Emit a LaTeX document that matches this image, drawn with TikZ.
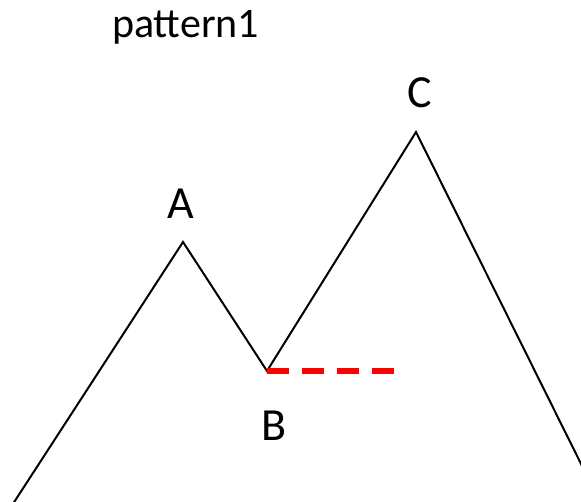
\documentclass[tikz,border=0pt]{standalone}
\usepackage{fontspec}
\setmainfont{Carlito}
\begin{document}
\begin{tikzpicture}[x=1pt,y=-1pt,
  peak/.style={line width=2pt,black,line join=miter},
  lvl/.style={line width=5.5pt,red,dash pattern=on 22pt off 13pt},
  lbl/.style={font=\fontsize{46}{50}\selectfont,inner sep=0pt}]
\useasboundingbox (0,0) rectangle (581,501);
\clip (0,0) rectangle (581,501);
\coordinate (s) at (-4,530);
\coordinate (a) at (183,242);
\coordinate (b) at (267,371);
\coordinate (c) at (416,132);
\coordinate (e) at (600,502);
\coordinate (d) at (394,371);
\draw[peak] (s) -- (a) -- (b) -- (c) -- (e);
\draw[lvl] (b) -- (d);
\node[lbl,anchor=base] (ta) at (181,218) {A};
\node[lbl,anchor=base] (tb) at (274,440) {B};
\node[lbl,anchor=base] (tc) at (420,107) {C};
\node[font=\fontsize{42}{46}\selectfont,inner sep=0pt,anchor=base west] (title) at (112,37) {pattern1};
\end{tikzpicture}
\end{document}
